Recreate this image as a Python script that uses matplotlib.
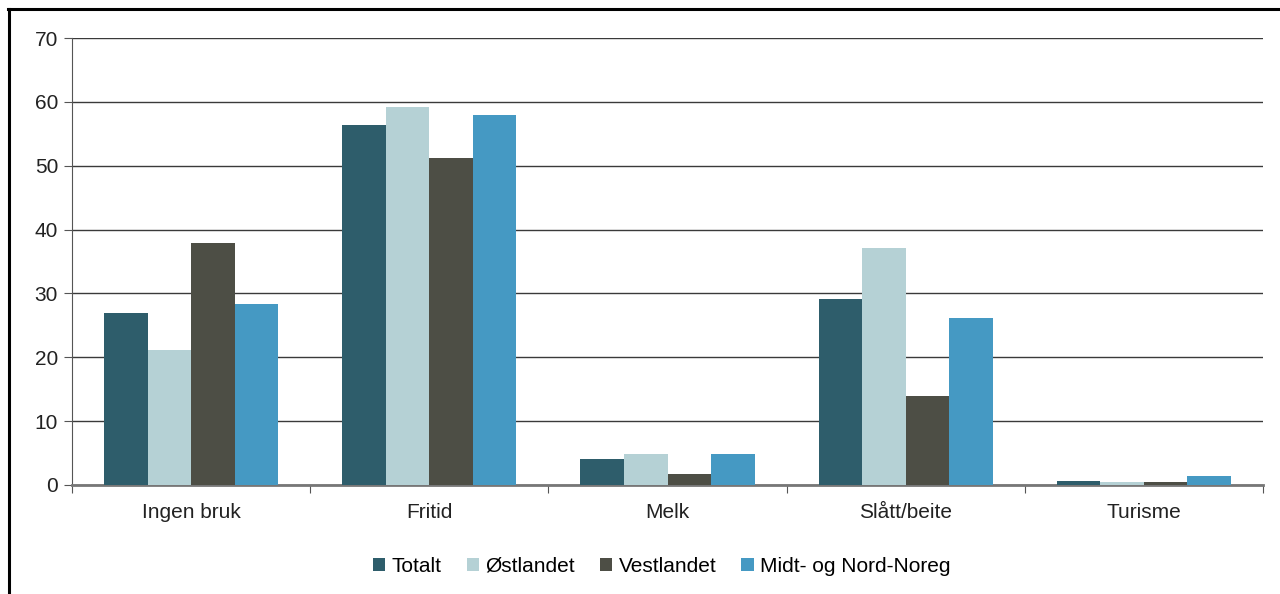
import matplotlib
matplotlib.use("Agg")
import matplotlib.pyplot as plt
import numpy as np

categories = ["Ingen bruk", "Fritid", "Melk", "Slått/beite", "Turisme"]
series = ["Totalt", "Østlandet", "Vestlandet", "Midt- og Nord-Noreg"]
totalt = [27.0, 56.3, 4.0, 29.1, 0.6]
ostlandet = [21.2, 59.2, 4.8, 37.1, 0.5]
vestlandet = [37.9, 51.2, 1.8, 14.0, 0.5]
midt_nord = [28.3, 58.0, 4.8, 26.2, 1.4]
colors = ["#2E5D6B", "#B5D1D5", "#4D4E45", "#4599C3"]

plt.rcParams["font.family"] = ["Liberation Sans", "DejaVu Sans"]
FS = 15

fig = plt.figure(figsize=(12.8, 5.94), dpi=100)
ax = fig.add_axes([72 / 1280, 1 - 485 / 594, (1263 - 72) / 1280, (485 - 38) / 594])

x = np.arange(len(categories))
w = 0.183
for j, (name, vals) in enumerate(zip(series, [totalt, ostlandet, vestlandet, midt_nord])):
    ax.bar(x + (j - 1.5) * w, vals, w, color=colors[j], label=name, zorder=3)

ax.set_xlim(-0.5, len(categories) - 0.5)
ax.set_ylim(0, 70)
ax.set_yticks(range(0, 71, 10))
ax.yaxis.grid(True, color="#3a3a3a", lw=1.0, zorder=0)
ax.set_axisbelow(True)

ax.set_xticks(np.arange(-0.5, len(categories), 1.0))
ax.set_xticklabels([])
ax.set_xticks(x, minor=True)
ax.set_xticklabels(categories, minor=True, fontsize=FS, color="#222222")
ax.tick_params(axis="x", which="minor", length=0, pad=13)
ax.tick_params(axis="x", which="major", length=6, color="#555555", direction="out")
ax.tick_params(axis="y", length=6, color="#555555", labelsize=FS, labelcolor="#222222", pad=4)

for s in ["top", "right"]:
    ax.spines[s].set_visible(False)
ax.spines["left"].set_color("#555555")
ax.spines["bottom"].set_color("#777777")
ax.spines["bottom"].set_linewidth(2.0)

ax.legend(loc="center", bbox_to_anchor=(0.517, 1 - 566 / 594), bbox_transform=fig.transFigure,
          ncol=4, frameon=False, fontsize=FS, handlelength=0.6, handleheight=0.6,
          handletextpad=0.3, columnspacing=1.2)

# outer frame (only left and top edges visible in the crop)
fig.add_artist(plt.Line2D([9 / 1280, 9 / 1280], [0, 1 - 9 / 594], color="black", lw=2.2,
                          transform=fig.transFigure))
fig.add_artist(plt.Line2D([8 / 1280, 1], [1 - 9 / 594, 1 - 9 / 594], color="black", lw=2.2,
                          transform=fig.transFigure))

fig.savefig("out.png", dpi=100)
